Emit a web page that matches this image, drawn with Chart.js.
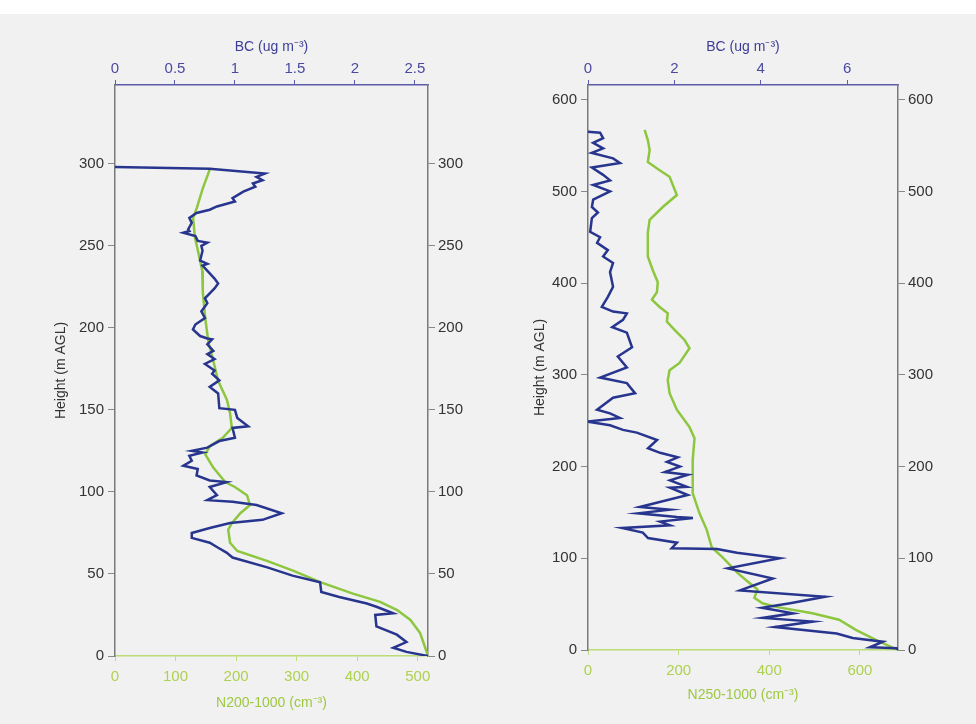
<!DOCTYPE html>
<html>
<head>
<meta charset="utf-8">
<script src="https://cdn.jsdelivr.net/npm/chart.js@4.4.1/dist/chart.umd.min.js"></script>
<style>
    body { margin: 0; background: #f1f1f1; width: 976px; height: 724px; overflow: hidden; position: relative; }
    #topStrip { position: absolute; left: 0; top: 0; width: 976px; height: 14px; background: #ffffff; }
    canvas { position: absolute; top: 0; }
    #leftChart { left: 0; }
    #rightChart { left: 490px; }
</style>
</head>
<body>
<div id="topStrip"></div>
<canvas id="leftChart" width="490" height="724"></canvas>
<canvas id="rightChart" width="486" height="724"></canvas>
<script>
// Left profile - BC (top axis) and N200-1000 (bottom axis) against height
const leftBlueBC = [0, 0.79, 1.25, 1.18, 1.23, 1.15, 1.17, 1.07, 0.98, 1.0, 0.85, 0.79, 0.68, 0.62, 0.64, 0.61, 0.62, 0.57, 0.67, 0.69, 0.77, 0.72, 0.73, 0.71, 0.77, 0.73, 0.83, 0.86, 0.83, 0.75, 0.77, 0.72, 0.75, 0.67, 0.65, 0.71, 0.77, 0.81, 0.77, 0.82, 0.77, 0.83, 0.75, 0.83, 0.81, 0.87, 0.79, 0.86, 0.87, 1.0, 1.02, 1.11, 0.98, 1.0, 0.87, 0.77, 0.64, 0.73, 0.62, 0.64, 0.57, 0.69, 0.68, 0.79, 0.93, 0.79, 0.85, 0.77, 0.98, 1.18, 1.39, 1.23, 0.96, 0.79, 0.64, 0.64, 0.79, 0.86, 0.93, 0.98, 1.27, 1.48, 1.71, 1.72, 1.87, 2.1, 2.18, 2.32, 2.17, 2.18, 2.35, 2.43, 2.32, 2.43, 2.61];
const leftBlueHeight = [298, 297, 294, 292, 290, 288, 286, 283, 279, 277, 274, 272, 270, 267, 264, 260, 259, 258, 256, 253, 252, 250, 247, 241, 239, 238, 230, 227, 224, 218, 215, 210, 206, 202, 199, 195, 193.5, 193, 190, 186, 184, 181, 178, 174, 172, 168, 164, 160, 151, 150, 145, 140, 139, 133, 131, 127, 125, 124, 122, 119, 116, 114, 110, 107, 106, 103, 98, 95, 94, 92, 87, 83, 81, 78, 75, 72, 69, 66, 63, 60, 54, 49, 45, 39, 36, 32, 30, 26, 25, 18, 13, 8.5, 5, 2.5, 0];
const leftGreenN = [157, 145, 135, 129, 132, 137, 144, 145, 149, 154, 165, 170, 185, 190, 193, 178, 157, 149, 162, 182, 198, 218, 223, 207, 193, 187, 190, 202, 251, 294, 339, 393, 438, 466, 488, 504, 512, 517];
const leftGreenHeight = [297, 285, 273, 267, 255, 247, 235, 222, 206, 192, 176, 168, 156, 148, 139, 133, 128, 123, 115, 106, 103, 98, 92, 87, 81, 77, 69, 64, 58, 52, 45, 38, 33, 28, 22, 14, 5.5, 0];

// Right profile - BC (top axis) and N250-1000 (bottom axis) against height
const rightBlueBC = [0, 0.28, 0.35, 0.12, 0.35, 0.09, 0.58, 0.74, 0.09, 0.35, 0.51, 0.12, 0.51, 0.12, 0.09, 0.23, 0.09, 0.05, 0.28, 0.21, 0.46, 0.35, 0.58, 0.51, 0.58, 0.46, 0.32, 0.58, 0.9, 0.81, 0.56, 0.9, 1.02, 0.69, 0.9, 0.28, 0.9, 1.09, 0.58, 0.21, 0.51, 0.74, 0, 0.51, 0.81, 1.13, 1.6, 1.39, 1.67, 2.08, 1.83, 2.13, 1.78, 2.31, 1.9, 2.29, 1.9, 2.31, 1.2, 1.9, 1.16, 2.06, 2.43, 1.67, 1.9, 0.79, 1.27, 1.39, 2.06, 1.94, 2.99, 3.45, 4.44, 3.24, 4.28, 3.52, 5.49, 4.68, 4.03, 4.75, 4.05, 5.21, 4.33, 5.76, 6.13, 6.83, 6.53, 7.15, 7.17];
const rightBlueHeight = [565, 564, 558, 553, 547, 542, 536, 531, 526, 518, 512, 507, 500, 491, 483, 477, 471, 456, 450, 444, 436, 429, 422, 412, 396, 385, 374, 369, 367, 360, 352, 346, 330, 320, 308, 297, 291, 280, 275, 262, 258, 253, 249, 245, 240, 237, 229, 220, 215, 210, 205, 200, 194, 191, 185, 178, 177, 169, 156, 153, 149, 145, 144, 140, 136, 133, 128, 122, 117, 111, 110, 106, 100, 89, 78, 65, 58, 51, 46, 40, 35, 31, 25, 18, 13, 9, 3, 2, 0];
const rightGreenN = [125, 132, 136, 132, 158, 180, 196, 165, 136, 132, 132, 143, 154, 152, 141, 158, 176, 174, 191, 213, 224, 202, 180, 176, 180, 196, 224, 235, 231, 231, 246, 262, 273, 297, 330, 349, 374, 367, 385, 415, 495, 554, 591, 635, 684];
const rightGreenHeight = [567, 556, 545, 532, 523, 516, 496, 483, 469, 455, 429, 414, 401, 390, 382, 374, 367, 358, 349, 338, 329, 313, 305, 294, 280, 262, 243, 231, 207, 171, 149, 131, 112, 101, 84, 76, 66, 57, 51, 47, 40, 33, 22, 11, 0];

// Tick labels
const leftHeightTicks = [0, 50, 100, 150, 200, 250, 300];
const leftBCTicks = [0, 0.5, 1, 1.5, 2, 2.5];
const leftNTicks = [0, 100, 200, 300, 400, 500];
const rightHeightTicks = [0, 100, 200, 300, 400, 500, 600];
const rightBCTicks = [0, 2, 4, 6];
const rightNTicks = [0, 200, 400, 600];

const BLUE = '#28358f';
const GREEN = '#8dc63f';
const FONT = 'Liberation Sans, Arial, sans-serif';

function toPoints(xs, ys) {
    return xs.map((x, i) => ({ x: x, y: ys[i] }));
}

function fixedTicks(values) {
    return scale => { scale.ticks = values.map(v => ({ value: v })); };
}

function xAxis(position, max, ticks, title, tickColor, titleColor, lineColor, height) {
    return {
        type: 'linear',
        position: position,
        min: 0,
        max: max,
        afterBuildTicks: fixedTicks(ticks),
        afterFit: s => { s.height = height; },
        ticks: {
            color: tickColor,
            font: { family: FONT, size: 15 },
            padding: position === 'top' ? 2 : 7,
            maxRotation: 0,
            callback: v => String(v)
        },
        grid: { drawOnChartArea: false, drawTicks: true, tickLength: 5, color: lineColor },
        border: { color: lineColor, width: 1.5 },
        title: {
            display: true,
            text: title,
            color: titleColor,
            font: { family: FONT, size: 14 },
            padding: { top: 4, bottom: 4 }
        }
    };
}

function yAxis(position, max, ticks, width, showTitle) {
    return {
        type: 'linear',
        position: position,
        min: 0,
        max: max,
        afterBuildTicks: fixedTicks(ticks),
        afterFit: s => { s.width = width; },
        ticks: {
            color: '#333333',
            font: { family: FONT, size: 15 },
            padding: position === 'left' ? 4 : 3,
            callback: v => String(v)
        },
        grid: { drawOnChartArea: false, drawTicks: true, tickLength: 7, color: '#888888' },
        border: { color: '#7a7a7a', width: 1.5 },
        title: {
            display: showTitle,
            text: 'Height (m AGL)',
            color: '#333333',
            font: { family: FONT, size: 14 },
            padding: { top: 4, bottom: 4 }
        }
    };
}

function makeChart(canvasId, cfg) {
    return new Chart(document.getElementById(canvasId), {
        type: 'scatter',
        data: {
            datasets: [
                {
                    data: toPoints(cfg.blueBC, cfg.blueHeight),
                    xAxisID: 'xTop',
                    yAxisID: 'y',
                    showLine: true,
                    borderColor: BLUE,
                    borderWidth: 2.5,
                    pointRadius: 0,
                    tension: 0
                },
                {
                    data: toPoints(cfg.greenN, cfg.greenHeight),
                    xAxisID: 'xBottom',
                    yAxisID: 'y',
                    showLine: true,
                    borderColor: GREEN,
                    borderWidth: 2.5,
                    pointRadius: 0,
                    tension: 0
                }
            ]
        },
        options: {
            responsive: false,
            animation: false,
            layout: { padding: cfg.padding },
            plugins: { legend: { display: false }, tooltip: { enabled: false } },
            scales: {
                xTop: xAxis('top', cfg.bcMax, cfg.bcTicks, 'BC (ug m⁻³)', '#4a4aa0', '#3d3d96', '#5c5ca8', 50),
                xBottom: xAxis('bottom', cfg.nMax, cfg.nTicks, cfg.nTitle, '#aed14f', '#9ec843', '#bcdc78', cfg.bottomHeight),
                y: yAxis('left', cfg.hMax, cfg.hTicks, cfg.leftWidth, true),
                y2: yAxis('right', cfg.hMax, cfg.hTicks, cfg.rightWidth, false)
            }
        }
    });
}

makeChart('leftChart', {
    blueBC: leftBlueBC, blueHeight: leftBlueHeight,
    greenN: leftGreenN, greenHeight: leftGreenHeight,
    bcMax: 2.61, bcTicks: leftBCTicks,
    nMax: 517, nTicks: leftNTicks, nTitle: 'N200-1000 (cm⁻³)',
    hMax: 348, hTicks: leftHeightTicks,
    padding: { left: 49, right: 0, top: 35, bottom: 8 },
    leftWidth: 66, rightWidth: 62, bottomHeight: 60
});

makeChart('rightChart', {
    blueBC: rightBlueBC, blueHeight: rightBlueHeight,
    greenN: rightGreenN, greenHeight: rightGreenHeight,
    bcMax: 7.18, bcTicks: rightBCTicks,
    nMax: 684, nTicks: rightNTicks, nTitle: 'N250-1000 (cm⁻³)',
    hMax: 616, hTicks: rightHeightTicks,
    padding: { left: 38, right: 0, top: 35, bottom: 16 },
    leftWidth: 60, rightWidth: 78, bottomHeight: 58
});
</script>
</body>
</html>
